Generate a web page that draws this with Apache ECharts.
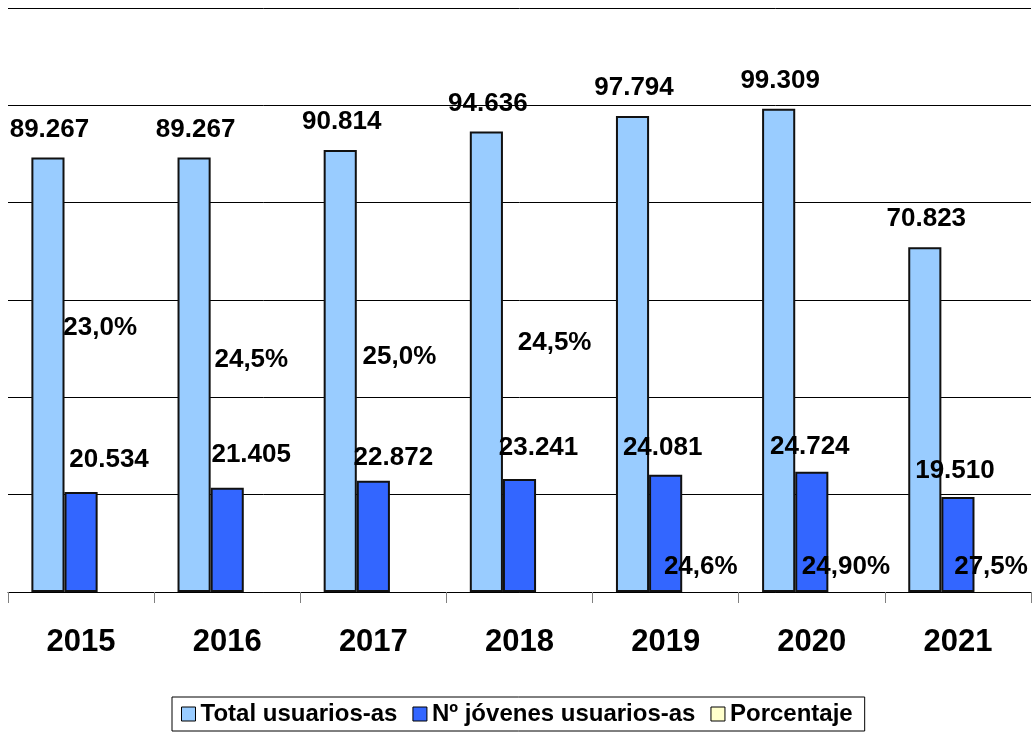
<!DOCTYPE html>
<html>
<head>
<meta charset="utf-8">
<script src="https://cdn.jsdelivr.net/npm/echarts@6/dist/echarts.min.js"></script>
<style>
  html, body { margin: 0; padding: 0; background: #fff; }
  #chart { width: 1036px; height: 733px; }
</style>
</head>
<body>
<div id="chart"></div>
<script>
// Years on the category axis
const years = ['2015', '2016', '2017', '2018', '2019', '2020', '2021'];
// Total users per year
const totalUsers = [89267, 89267, 90814, 94636, 97794, 99309, 70823];
// Young users per year
const youngUsers = [20534, 21405, 22872, 23241, 24081, 24724, 19510];
// Share of young users (%) and how many decimals each label shows
const youngShare = [23.0, 24.5, 25.0, 24.5, 24.6, 24.90, 27.5];
const shareDecimals = [1, 1, 1, 1, 1, 2, 1];

// Hand-placed label nudges [dx, dy] in pixels
const youngLabelNudge = [[28, -4], [24, -5], [20, 5], [19, -3], [-3, 1], [-2, 3], [-3, 2]];
const shareLabelNudge = [[-14, -236], [-9, -204], [-7, -207], [2, -221], [2, 3], [1, 3], [0, 3]];

const FONT = "'Liberation Sans', Arial, Helvetica, sans-serif";

function thousands(v) {
  return String(v).replace(/\B(?=(\d{3})+(?!\d))/g, '.');
}

const labelBase = {
  show: true,
  position: 'top',
  distance: 15,
  color: '#000',
  fontFamily: FONT,
  fontWeight: 'bold',
  fontSize: 26
};

const chart = echarts.init(document.getElementById('chart'), null, { renderer: 'canvas' });

chart.setOption({
  animation: false,
  backgroundColor: '#fff',
  grid: { left: 8, right: 5, top: 8, bottom: 141, containLabel: false },
  xAxis: {
    type: 'category',
    data: years,
    axisLine: { lineStyle: { color: '#000', width: 1 } },
    axisTick: { show: true, length: 11, lineStyle: { color: '#808080', width: 1 } },
    axisLabel: {
      margin: 35,
      color: '#000',
      fontFamily: FONT,
      fontWeight: 'bold',
      fontSize: 31
    }
  },
  yAxis: {
    type: 'value',
    min: 0,
    max: 120000,
    interval: 20000,
    axisLine: { show: false },
    axisTick: { show: false },
    axisLabel: { show: false },
    splitLine: { lineStyle: { color: '#000', width: 1 } }
  },
  legend: {
    left: 172,
    top: 697,
    orient: 'horizontal',
    itemWidth: 14,
    itemHeight: 14,
    itemGap: 15,
    padding: [5, 12, 5, 9],
    borderColor: '#000',
    borderWidth: 1,
    icon: 'rect',
    textStyle: { color: '#000', fontFamily: FONT, fontWeight: 'bold', fontSize: 24 },
    data: [
      { name: 'Total usuarios-as', itemStyle: { color: '#99CCFF', borderColor: '#000', borderWidth: 1 } },
      { name: 'Nº jóvenes usuarios-as', itemStyle: { color: '#3366FF', borderColor: '#000', borderWidth: 1 } },
      { name: 'Porcentaje', itemStyle: { color: '#FFFFCC', borderColor: '#000', borderWidth: 1 } }
    ]
  },
  series: [
    {
      name: 'Total usuarios-as',
      type: 'bar',
      barGap: '0%',
      barCategoryGap: '32%',
      itemStyle: { color: '#99CCFF', borderColor: '#111', borderWidth: 2 },
      label: Object.assign({}, labelBase, {
        offset: [1.5, 0],
        formatter: p => thousands(p.value)
      }),
      data: totalUsers
    },
    {
      name: 'Nº jóvenes usuarios-as',
      type: 'bar',
      barGap: '0%',
      barCategoryGap: '32%',
      itemStyle: { color: '#3366FF', borderColor: '#111', borderWidth: 2 },
      label: Object.assign({}, labelBase, {
        formatter: p => thousands(p.value)
      }),
      data: youngUsers.map((v, i) => ({
        value: v,
        label: { offset: youngLabelNudge[i] }
      }))
    },
    {
      name: 'Porcentaje',
      type: 'bar',
      barGap: '0%',
      barCategoryGap: '32%',
      itemStyle: { color: '#FFFFCC', borderWidth: 0 },
      label: Object.assign({}, labelBase, {
        formatter: p => youngShare[p.dataIndex].toFixed(shareDecimals[p.dataIndex]).replace('.', ',') + '%'
      }),
      data: youngShare.map((v, i) => ({
        value: v,
        label: { offset: shareLabelNudge[i] }
      }))
    }
  ]
});
</script>
</body>
</html>
